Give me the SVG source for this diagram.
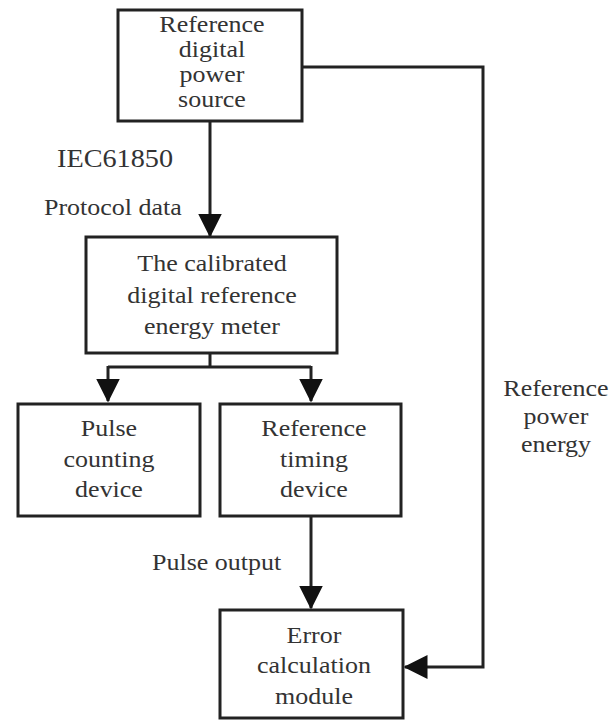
<svg xmlns="http://www.w3.org/2000/svg" width="613" height="721" viewBox="0 0 613 721">
<style>
.box{fill:#fff;stroke:#222;stroke-width:3}
.t{font-family:"Liberation Serif","Times New Roman",serif;font-size:23px;fill:#333;text-anchor:middle}
.l{font-family:"Liberation Serif","Times New Roman",serif;font-size:23px;fill:#333}
.c{fill:none;stroke:#222;stroke-width:3}
</style>
<defs>
<marker id="ah" markerWidth="8" markerHeight="8" refX="7.5" refY="4" orient="auto" markerUnits="strokeWidth" viewBox="0 0 8 8">
<path d="M0,0 L8,4 L0,8 Z" fill="#111"/>
</marker>
</defs>
<rect width="613" height="721" fill="#fff"/>
<g id="connectors">
<path class="c" d="M210,121 V236" marker-end="url(#ah)"/>
<path class="c" d="M210,353 V367"/>
<path class="c" d="M108,367 H311"/>
<path class="c" d="M108,366 V401" marker-end="url(#ah)"/>
<path class="c" d="M311,366 V401" marker-end="url(#ah)"/>
<path class="c" d="M311,516 V608" marker-end="url(#ah)"/>
<path class="c" d="M302,67 H483 V667 H405" marker-end="url(#ah)"/>
</g>
<g id="n1">
<rect class="box" x="118" y="10" width="184" height="111"/>
<text class="t" transform="translate(212,32) scale(1.13,1)">Reference</text>
<text class="t" transform="translate(212,57) scale(1.13,1)">digital</text>
<text class="t" transform="translate(212,82) scale(1.13,1)">power</text>
<text class="t" transform="translate(212,107) scale(1.13,1)">source</text>
</g>
<g id="n2">
<rect class="box" x="86" y="237" width="251" height="116"/>
<text class="t" transform="translate(212,271) scale(1.13,1)">The calibrated</text>
<text class="t" transform="translate(212,303) scale(1.13,1)">digital reference</text>
<text class="t" transform="translate(212,334) scale(1.13,1)">energy meter</text>
</g>
<g id="n3">
<rect class="box" x="18" y="404" width="182" height="112"/>
<text class="t" transform="translate(109,436) scale(1.13,1)">Pulse</text>
<text class="t" transform="translate(109,467) scale(1.13,1)">counting</text>
<text class="t" transform="translate(109,497) scale(1.13,1)">device</text>
</g>
<g id="n4">
<rect class="box" x="220" y="404" width="181" height="112"/>
<text class="t" transform="translate(314,436) scale(1.13,1)">Reference</text>
<text class="t" transform="translate(314,467) scale(1.13,1)">timing</text>
<text class="t" transform="translate(314,497) scale(1.13,1)">device</text>
</g>
<g id="n5">
<rect class="box" x="220" y="610" width="183" height="108"/>
<text class="t" transform="translate(314,643) scale(1.13,1)">Error</text>
<text class="t" transform="translate(314,673) scale(1.13,1)">calculation</text>
<text class="t" transform="translate(314,704) scale(1.13,1)">module</text>
</g>
<g id="labels">
<text class="l" transform="translate(57,167) scale(1.13,1)" style="font-size:25px">IEC61850</text>
<text class="l" transform="translate(44,215) scale(1.13,1)">Protocol data</text>
<text class="l" transform="translate(152,570) scale(1.13,1)">Pulse output</text>
<text class="t" transform="translate(556,396) scale(1.13,1)">Reference</text>
<text class="t" transform="translate(556,424) scale(1.13,1)">power</text>
<text class="t" transform="translate(556,452) scale(1.13,1)">energy</text>
</g>
</svg>
